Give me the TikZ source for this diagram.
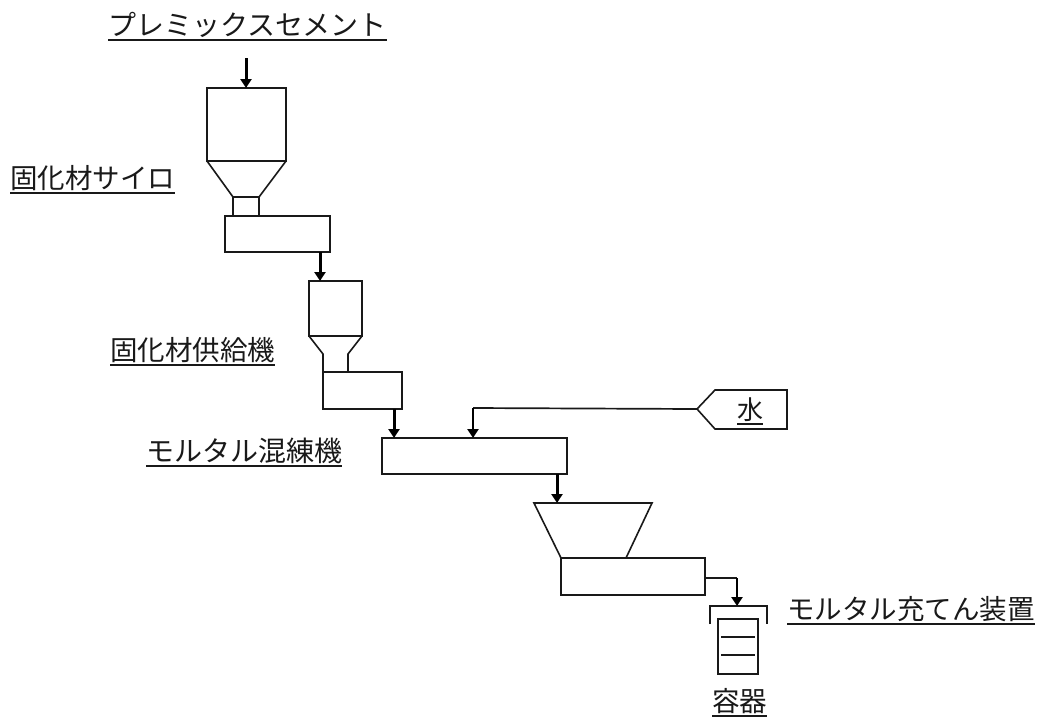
\documentclass[tikz,border=0pt]{standalone}
\usepackage{fontspec}
\newfontfamily\cjk{Noto Sans CJK JP}
\usetikzlibrary{arrows.meta}
\tikzset{
  unit/.style={draw=black!90,line width=1.6pt,rectangle,inner sep=0pt,outer sep=0pt,anchor=north west},
  part/.style={draw=black!90,line width=1.6pt,line join=miter},
  flow/.style={draw=black,line width=3pt,-{Triangle[length=9pt,width=11pt]}},
  thinflow/.style={draw=black!90,line width=1.7pt},
  txt/.style={font=\cjk\fontsize{#1}{#1}\selectfont,inner sep=0pt,outer sep=0pt,anchor=south west,text depth=4.5pt,text=black!90},
  txt/.default=27.5pt,
  uline/.style={draw=black!90,line width=1.5pt}
}
\begin{document}
\begin{tikzpicture}[x=1pt,y=-1pt]
\useasboundingbox (0,0) rectangle (1040,718);
% units
\node[unit,minimum width=79pt,minimum height=73pt] (silo) at (207,88) {};
\node[unit,minimum width=105pt,minimum height=36pt] (feedA) at (225,216) {};
\node[unit,minimum width=53pt,minimum height=55pt] (bin) at (309,281) {};
\node[unit,minimum width=79pt,minimum height=37pt] (feedB) at (323,372) {};
\node[unit,minimum width=185pt,minimum height=36pt] (mixer) at (382,438) {};
\node[unit,minimum width=144pt,minimum height=37pt] (filler) at (561,558) {};
\node[unit,minimum width=40pt,minimum height=55pt] (can) at (718,619) {};
% hoppers
\draw[part] (silo.south west) -- (233,197) -- (259,197) -- (silo.south east);
\draw[part] (233,197) -- (233,216) (259,197) -- (259,216);
\draw[part] (bin.south west) -- (323,354) -- (323,372) (bin.south east) -- (348,354) -- (348,372);
\draw[part] (561,558) -- (534,503) -- (652,503) -- (626,558);
% water tag
\coordinate (tagtip) at (697,409);
\draw[part] (tagtip) -- (715,390) -- (787,390) -- (787,429) -- (715,429) -- cycle;
% container
\draw[part] (710,624) -- (710,606) coordinate (capL) -- (767,606) coordinate (capR) -- (767,624);
\draw[part] (721,637) -- (755,637) (721,655) -- (755,655);
% connectors
\coordinate (in) at (246,58);
\draw[flow] (in) -- (in |- silo.north);
\coordinate (a1) at (320,252);
\draw[flow] (a1) -- (a1 |- bin.north);
\coordinate (a2) at (394,409);
\draw[flow] (a2) -- (a2 |- mixer.north);
\coordinate (a3) at (557,474);
\draw[flow] (a3) -- (557,503);
\coordinate (wb) at (473,408);
\draw[thinflow] (tagtip) -- (wb);
\draw[flow,line width=2.3pt] (wb) -- (wb |- mixer.north);
\coordinate (o1) at (705,578);
\coordinate (o2) at (737,578);
\draw[thinflow] (o1) -- (o2);
\draw[flow,line width=2.3pt] (o2) -- (737,606);
% labels
\node[txt=28pt] (t1) at (108,40) {プレミックスセメント};
\node[txt] (t2) at (10,193) {固化材サイロ};
\node[txt] (t3) at (110,365) {固化材供給機};
\node[txt=28pt] (t4) at (146,466) {モルタル混練機};
\node[txt=26pt] (t5) at (737,424) {水};
\node[txt] (t6) at (787,624) {モルタル充てん装置};
\node[txt] (t7) at (712,716) {容器};
\foreach \n in {t1,t2,t3,t4,t5,t6,t7} \draw[uline] (\n.south west) -- (\n.south east);
\end{tikzpicture}
\end{document}
